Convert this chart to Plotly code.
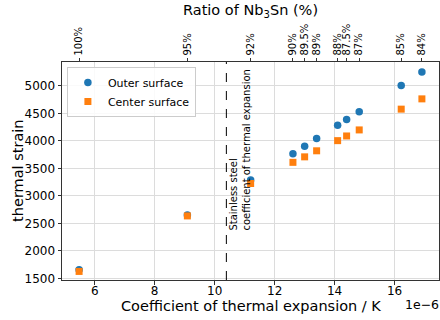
import plotly.graph_objects as go

# ---- data ----
cte = [5.48, 9.09, 11.2, 12.61, 13.0, 13.4, 14.1, 14.4, 14.82, 16.22, 16.91]  # x 1e-6 /K
outer = [1655, 2650, 3290, 3765, 3905, 4045, 4285, 4390, 4530, 5010, 5255]
center = [1625, 2635, 3225, 3610, 3710, 3820, 4005, 4090, 4200, 4578, 4765]
ratio_labels = ["100%", "95%", "92%", "90%", "89.5%", "89%", "88%", "87.5%", "87%", "85%", "84%"]
x_ticks = [6, 8, 10, 12, 14, 16]
y_ticks = [1500, 2000, 2500, 3000, 3500, 4000, 4500, 5000]
steel_cte = 10.39

FONT = "DejaVu Sans"
x_range = [4.91, 17.48]

fig = go.Figure()
fig.add_trace(go.Scatter(x=cte, y=outer, mode="markers", name="Outer surface",
                         marker=dict(symbol="circle", size=7.5, color="#1f77b4")))
fig.add_trace(go.Scatter(x=cte, y=center, mode="markers", name="Center surface",
                         marker=dict(symbol="square", size=7, color="#ff7f0e")))
# trace on top axis (same points, hidden) to activate the ratio axis
fig.add_trace(go.Scatter(x=cte, y=outer, xaxis="x2", mode="markers",
                         marker=dict(size=1, color="rgba(0,0,0,0)"), showlegend=False,
                         hoverinfo="skip"))

fig.add_shape(type="line", x0=steel_cte, x1=steel_cte, y0=0, y1=1, xref="x", yref="paper",
              line=dict(color="black", width=1, dash="dash"))
fig.add_annotation(x=steel_cte, y=2330, xref="x", yref="y",
                   text="Stainless steel<br>coefficient of thermal expansion",
                   textangle=-90, showarrow=False, xanchor="left", yanchor="bottom",
                   align="left",
                   font=dict(family=FONT, size=10, color="black"))
# axis titles
fig.add_annotation(x=0.5, y=-0.118, xref="paper", yref="paper",
                   text="Coefficient of thermal expansion / K", showarrow=False,
                   xanchor="center", yanchor="middle",
                   font=dict(family=FONT, size=14.5, color="black"))
fig.add_annotation(x=-0.117, y=0.5, xref="paper", yref="paper", text="thermal strain",
                   textangle=-90, showarrow=False, xanchor="center", yanchor="middle",
                   font=dict(family=FONT, size=14.5, color="black"))
fig.add_annotation(x=0.5, y=1.234, xref="paper", yref="paper",
                   text="Ratio of Nb<sub>3</sub>Sn (%)", showarrow=False,
                   xanchor="center", yanchor="middle",
                   font=dict(family=FONT, size=14.5, color="black"))
fig.add_annotation(x=1.004, y=-0.112, xref="paper", yref="paper", text="1e\u22126",
                   showarrow=False, xanchor="right", yanchor="middle",
                   font=dict(family=FONT, size=12.5, color="black"))

axis_common = dict(showline=True, linecolor="#333", linewidth=1, mirror=True,
                   ticks="outside", ticklen=3.5, tickcolor="#333", automargin=False,
                   tickfont=dict(family=FONT, size=12, color="black"))

fig.update_layout(
    width=440, height=320,
    margin=dict(l=62, r=1, t=62, b=40),
    paper_bgcolor="white", plot_bgcolor="white",
    font=dict(family=FONT, color="black"),
    xaxis=dict(range=x_range, tickvals=x_ticks, ticktext=[str(v) for v in x_ticks],
               showgrid=True, gridcolor="#dcdcdc", zeroline=False, ticklabelstandoff=-4,
               **axis_common),
    xaxis2=dict(range=x_range, overlaying="x", side="top", tickvals=cte, ticktext=ratio_labels,
                tickangle=-90, showgrid=False, zeroline=False, ticks="outside", ticklen=3.5,
                tickcolor="#333", automargin=False,
                tickfont=dict(family=FONT, size=10, color="black")),
    yaxis=dict(range=[1469, 5436], tickvals=y_ticks, showgrid=True, gridcolor="#dcdcdc",
               zeroline=False, **axis_common),
    legend=dict(x=0.013, y=0.977, xanchor="left", yanchor="top", tracegroupgap=0,
                bgcolor="rgba(255,255,255,0.85)", bordercolor="#cccccc", borderwidth=1,
                font=dict(family=FONT, size=11, color="black")),
    showlegend=True,
)

fig.write_html("out.html", config={"displayModeBar": False},
               post_script="document.body.style.margin='0';document.body.style.overflow='hidden';")
